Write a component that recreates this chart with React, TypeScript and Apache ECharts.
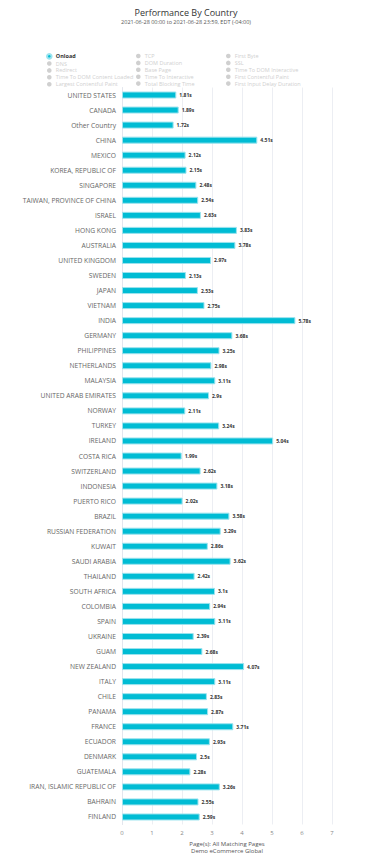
import React, { useEffect, useRef } from "react";
import * as echarts from "echarts";

const countries = [
  "UNITED STATES", "CANADA", "Other Country", "CHINA", "MEXICO", "KOREA, REPUBLIC OF",
  "SINGAPORE", "TAIWAN, PROVINCE OF CHINA", "ISRAEL", "HONG KONG", "AUSTRALIA",
  "UNITED KINGDOM", "SWEDEN", "JAPAN", "VIETNAM", "INDIA", "GERMANY", "PHILIPPINES",
  "NETHERLANDS", "MALAYSIA", "UNITED ARAB EMIRATES", "NORWAY", "TURKEY", "IRELAND",
  "COSTA RICA", "SWITZERLAND", "INDONESIA", "PUERTO RICO", "BRAZIL", "RUSSIAN FEDERATION",
  "KUWAIT", "SAUDI ARABIA", "THAILAND", "SOUTH AFRICA", "COLOMBIA", "SPAIN", "UKRAINE",
  "GUAM", "NEW ZEALAND", "ITALY", "CHILE", "PANAMA", "FRANCE", "ECUADOR", "DENMARK",
  "GUATEMALA", "IRAN, ISLAMIC REPUBLIC OF", "BAHRAIN", "FINLAND",
];

const onloadValues = [
  1.81, 1.89, 1.72, 4.51, 2.12, 2.15, 2.48, 2.54, 2.63, 3.83, 3.78, 2.97, 2.13, 2.53,
  2.75, 5.78, 3.68, 3.25, 2.98, 3.11, 2.9, 2.11, 3.24, 5.04, 1.99, 2.62, 3.18, 2.02,
  3.58, 3.29, 2.86, 3.62, 2.42, 3.1, 2.94, 3.11, 2.39, 2.68, 4.07, 3.11, 2.83, 2.87,
  3.71, 2.93, 2.5, 2.28, 3.26, 2.55, 2.59,
];

const legendCol1 = ["Onload", "DNS", "Redirect", "Time To DOM Content Loaded", "Largest Contentful Paint"];
const legendCol2 = ["TCP", "DOM Duration", "Base Page", "Time To Interactive", "Total Blocking Time"];
const legendCol3 = ["First Byte", "SSL", "Time To DOM Interactive", "First Contentful Paint", "First Input Delay Duration"];

const xTicks = [0, 1, 2, 3, 4, 5, 6, 7];

const FONT = "'Open Sans', 'Noto Sans', sans-serif";

export default function App() {
  const ref = useRef<HTMLDivElement>(null);
  useEffect(() => {
    document.body.style.margin = "0";
    if (!ref.current) return;
    const chart = echarts.init(ref.current, undefined, { renderer: "svg" });
    const allNames = [...legendCol1, ...legendCol2, ...legendCol3];
    const selected: Record<string, boolean> = {};
    allNames.forEach((n) => (selected[n] = n === "Onload"));

    const mkLegend = (names: string[], left: number) => ({
      orient: "vertical",
      left,
      top: 53,
      padding: 0,
      itemWidth: 5,
      itemHeight: 4.6,
      itemGap: 0.9,
      icon: "circle",
      selected,
      inactiveColor: "#d0d0d0",
      textStyle: { fontSize: 5.5, color: "#333", fontFamily: FONT, lineHeight: 4.6, padding: [0, 0, 0, -1] },
      data: names.map((n) =>
        n === "Onload" ? { name: n, textStyle: { fontWeight: "bold" } } : { name: n }
      ),
    });

    const series: any[] = allNames.map((name) => {
      if (name === "Onload") {
        return {
          name,
          type: "bar",
          data: onloadValues,
          barWidth: 7,
          itemStyle: { color: "#00BCD4", borderColor: "#9be3ee", borderWidth: 1 },
          label: {
            show: true,
            position: "right",
            distance: 3,
            formatter: (p: any) => p.value + "s",
            fontSize: 5,
            fontWeight: "bold",
            color: "#333",
            fontFamily: FONT,
          },
        };
      }
      return { name, type: "bar", data: [], itemStyle: { color: "#00BCD4" } };
    });

    chart.setOption({
      animation: false,
      color: ["#00BCD4"],
      title: [
        {
          text: "Performance By Country",
          left: "center",
          top: 8,
          padding: 0,
          textStyle: { fontSize: 9, fontWeight: "normal", color: "#333", fontFamily: FONT, lineHeight: 9 },
        },
        {
          text: "2021-06-28 00:00 to 2021-06-28 23:59, EDT (-04:00)",
          left: "center",
          top: 19.5,
          padding: 0,
          textStyle: { fontSize: 5.5, fontWeight: "normal", color: "#555", fontFamily: FONT, lineHeight: 5.5 },
        },
      ],
      legend: [mkLegend(legendCol1, 46), mkLegend(legendCol2, 136), mkLegend(legendCol3, 226)],
      grid: { left: 122, right: 40, top: 87.5, height: 737, containLabel: false },
      xAxis: {
        type: "value",
        min: xTicks[0],
        max: xTicks[xTicks.length - 1],
        interval: 1,
        axisLine: { show: false },
        axisTick: { show: false },
        splitLine: { lineStyle: { color: "#eceef3", width: 1 } },
        axisLabel: { fontSize: 6, color: "#888", fontFamily: FONT, margin: 5 },
        name: "Page(s): All Matching Pages\nDemo eCommerce Global",
        nameLocation: "middle",
        nameGap: 14,
        nameTextStyle: { fontSize: 6, color: "#555", fontFamily: FONT, lineHeight: 7, verticalAlign: "top" },
      },
      yAxis: {
        type: "category",
        data: countries,
        inverse: true,
        axisLine: { show: true, lineStyle: { color: "#e3e6ee" } },
        axisTick: { show: false },
        axisLabel: { fontSize: 6.7, color: "#666", fontFamily: FONT, margin: 6 },
      },
      series,
    });
    return () => chart.dispose();
  }, []);
  return <div ref={ref} style={{ width: 372, height: 865 }} />;
}
